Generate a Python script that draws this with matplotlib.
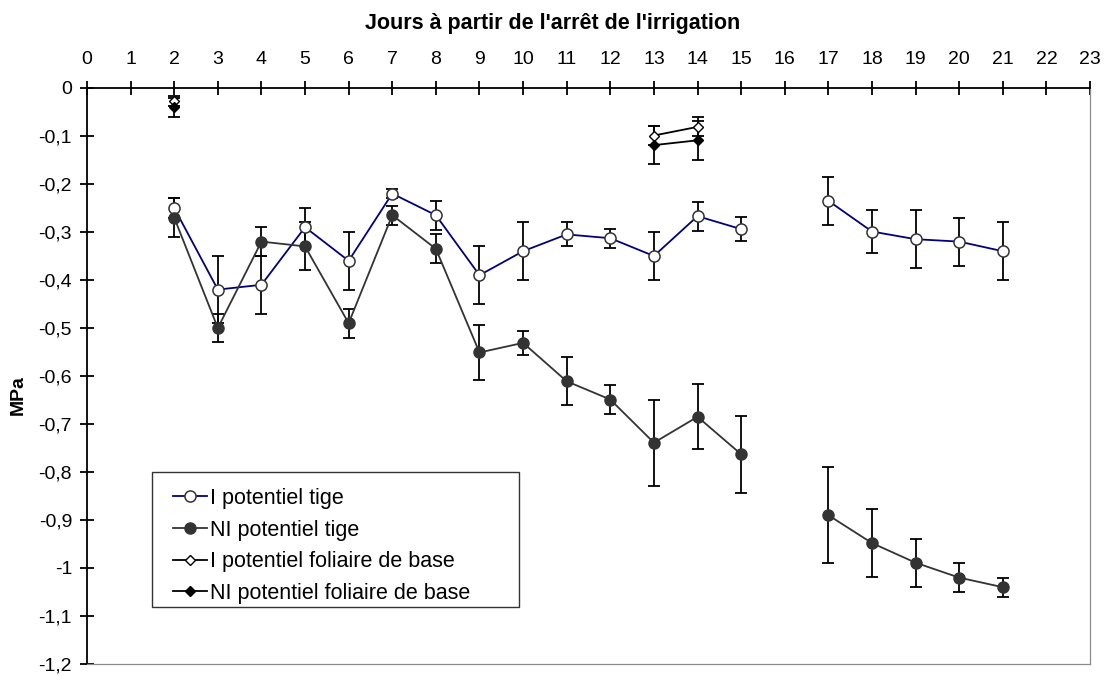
import numpy as np
import matplotlib.pyplot as plt
from matplotlib.patches import Rectangle
from matplotlib.ticker import FuncFormatter

plt.rcParams["font.family"] = ["Liberation Sans", "DejaVu Sans"]

days = np.arange(2, 22)

# stem water potential (MPa); day 16 missing
i_tige = [-0.25, -0.42, -0.41, -0.29, -0.36, -0.22, -0.265, -0.39, -0.34, -0.305,
          -0.313, -0.35, -0.267, -0.294, np.nan, -0.235, -0.299, -0.315, -0.32, -0.34]
i_tige_err = [0.02, 0.07, 0.06, 0.04, 0.06, 0.01, 0.03, 0.06, 0.06, 0.025,
              0.02, 0.05, 0.03, 0.025, np.nan, 0.05, 0.045, 0.06, 0.05, 0.06]
ni_tige = [-0.27, -0.50, -0.32, -0.33, -0.49, -0.265, -0.335, -0.551, -0.531, -0.611,
           -0.649, -0.739, -0.685, -0.763, np.nan, -0.89, -0.948, -0.989, -1.02, -1.04]
ni_tige_err = [0.04, 0.03, 0.03, 0.05, 0.03, 0.02, 0.03, 0.058, 0.025, 0.05,
               0.03, 0.09, 0.068, 0.08, np.nan, 0.1, 0.07, 0.05, 0.03, 0.02]

# predawn leaf water potential
fol_days = [2, 8, 13, 14]
i_fol = [-0.027, np.nan, -0.099, -0.081]
i_fol_err = [0.01, np.nan, 0.02, 0.02]
ni_fol = [-0.04, np.nan, -0.119, -0.109]
ni_fol_err = [0.02, np.nan, 0.04, 0.04]

fig = plt.figure(figsize=(11.05, 6.75), dpi=100)
ax = fig.add_axes([87 / 1105, 1 - 664 / 675, (1090 - 87) / 1105, (664 - 88) / 675])

eb = dict(fmt="none", ecolor="black", elinewidth=1.3, capsize=4, capthick=1.3, zorder=2)
ax.errorbar(days, i_tige, yerr=i_tige_err, **eb)
ax.errorbar(days, ni_tige, yerr=ni_tige_err, **eb)
ax.errorbar(fol_days, i_fol, yerr=i_fol_err, **eb)
ax.errorbar(fol_days, ni_fol, yerr=ni_fol_err, **eb)

h1, = ax.plot(days, i_tige, "-o", color="#000080", lw=1.3, ms=8, mfc="white",
              mec="#333333", mew=1.1, zorder=3, label="I potentiel tige")
h2, = ax.plot(days, ni_tige, "-o", color="#333333", lw=1.3, ms=8, mfc="#333333",
              mec="#333333", zorder=3, label="NI potentiel tige")
h3, = ax.plot(fol_days, i_fol, "-D", color="black", lw=1.3, ms=5.5, mfc="white",
              mec="black", mew=1.0, zorder=4, label="I potentiel foliaire de base")
h4, = ax.plot(fol_days, ni_fol, "-D", color="black", lw=1.3, ms=5.5, mfc="black",
              mec="black", zorder=4, label="NI potentiel foliaire de base")

ax.set_xlim(0, 23)
ax.set_ylim(-1.2, 0)
ax.set_xticks(np.arange(0, 24))
ax.set_yticks(np.round(np.arange(-1.2, 0.01, 0.1), 1))
ax.yaxis.set_major_formatter(FuncFormatter(lambda v, p: f"{v:g}".replace(".", ",")))

ax.xaxis.tick_top()
ax.xaxis.set_label_position("top")
for s in ("top", "left"):
    ax.spines[s].set_linewidth(1.3)
for s in ("bottom", "right"):
    ax.spines[s].set_linewidth(0.9)
    ax.spines[s].set_color("#8c8c8c")
ax.tick_params(axis="both", direction="inout", length=9.5, width=1.3, labelsize=14)
ax.tick_params(axis="x", pad=10)
ax.tick_params(axis="y", pad=6)

ax.set_xlabel("Jours à partir de l'arrêt de l'irrigation", fontsize=15.5,
              fontweight="bold", va="center")
ax.set_ylabel("MPa", fontsize=14, fontweight="bold", va="center")
ax.xaxis.set_label_coords((553 - 87) / 1003, (664 - 23) / 576)
ax.yaxis.set_label_coords((18 - 87) / 1003, (664 - 395) / 576)

# legend frame drawn separately (extra space on the right, like the original)
fig.patches.append(Rectangle((152 / 1105, 1 - 607 / 675), 367 / 1105, 135 / 675,
                             transform=fig.transFigure, fill=False,
                             edgecolor="#333333", lw=1.0, zorder=5))
ax.legend(handles=[h1, h2, h3, h4], loc="upper left",
          bbox_to_anchor=(173 / 1105, 1 - 488 / 675),
          bbox_transform=fig.transFigure, fontsize=15.5, frameon=False,
          handlelength=1.6, handletextpad=0.1, borderpad=0, labelspacing=0.49,
          borderaxespad=0)

fig.savefig("out.png", dpi=100)
